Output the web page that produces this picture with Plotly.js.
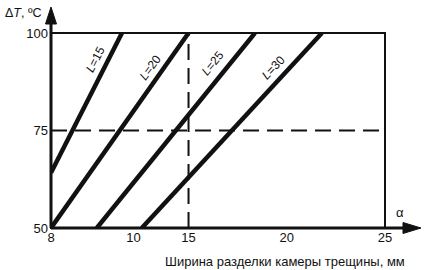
<!DOCTYPE html>
<html>
<head>
<meta charset="utf-8">
<script src="https://cdn.plot.ly/plotly-3.0.1.min.js"></script>
<style>html,body{margin:0;padding:0;background:#fff}#chart{width:425px;height:270px}</style>
</head>
<body>
<div id="chart"></div>
<script>
// Data
const lineNames = ['L=15', 'L=20', 'L=25', 'L=30'];
const lineLabels = ['<i>L</i>=15', '<i>L</i>=20', '<i>L</i>=25', '<i>L</i>=30'];
const xStart = [8, 8, 10.33, 12.62];
const yStart = [64.2, 50, 50, 50];
const xEnd = [11.61, 15, 18.38, 21.79];
const yEnd = [100, 100, 100, 100];
const labelX = [10.24, 13.04, 16.24, 19.3];
const labelY = [93.1, 91.0, 92.3, 91.0];
const labelAngle = [-63, -54, -51, -47];

const xTickVals = [8, 12.2, 15, 20, 25];
const xTickText = ['8', '10', '15', '20', '25'];
const yTickVals = [50, 75, 100];
const yTickText = ['50', '75', '100'];
const refX = 15;   // dashed vertical guide
const refY = 75;   // dashed horizontal guide
const xTitle = 'Ширина разделки камеры трещины, мм';
const yTitle = 'Δ<i>T</i>, ºC';
const xSymbol = 'α';

const FONT = 'Liberation Sans, Arial, Helvetica, sans-serif';

const traces = lineNames.map((n, i) => ({
  type: 'scatter', mode: 'lines', name: n,
  x: [xStart[i], xEnd[i]], y: [yStart[i], yEnd[i]],
  line: {color: '#111', width: 4.5},
  showlegend: false, hoverinfo: 'skip', cliponaxis: false
}));

// dashed guides
traces.push({type: 'scatter', mode: 'lines', x: [8, 25], y: [refY, refY],
  line: {color: '#111', width: 2, dash: '16px,8px'}, showlegend: false, hoverinfo: 'skip'});
traces.push({type: 'scatter', mode: 'lines', x: [refX, refX], y: [50, 100],
  line: {color: '#111', width: 2, dash: '16px,8px'}, showlegend: false, hoverinfo: 'skip'});

const annotations = lineNames.map((n, i) => ({
  x: labelX[i], y: labelY[i], xref: 'x', yref: 'y', text: lineLabels[i],
  showarrow: false, textangle: labelAngle[i],
  font: {family: FONT, size: 12, color: '#111'}
}));
annotations.push({xref: 'paper', yref: 'paper', x: -0.144, y: 1.103, xanchor: 'left', yanchor: 'middle',
  text: yTitle, showarrow: false, font: {family: FONT, size: 12.5, color: '#111'}});
annotations.push({xref: 'paper', yref: 'paper', x: 1.045, y: 0.077, xanchor: 'center', yanchor: 'middle',
  text: xSymbol, showarrow: false, font: {family: FONT, size: 13, color: '#111'}});
annotations.push({xref: 'paper', yref: 'paper', x: 0.70, y: -0.174, xanchor: 'center', yanchor: 'middle',
  text: xTitle, showarrow: false, font: {family: FONT, size: 13, color: '#111'}});

const shapes = [
  // frame top and right
  {type: 'rect', xref: 'paper', yref: 'paper', x0: 0, x1: 1, y0: 0, y1: 1,
   line: {color: '#111', width: 2}, layer: 'above'},
  // x axis with arrow
  {type: 'line', xref: 'paper', yref: 'paper', xsizemode: 'pixel', ysizemode: 'pixel',
   xanchor: 0, yanchor: 0, x0: 0, x1: 356, y0: 0, y1: 0, line: {color: '#111', width: 3}, layer: 'above'},
  {type: 'path', xref: 'paper', yref: 'paper', xsizemode: 'pixel', ysizemode: 'pixel',
   xanchor: 0, yanchor: 0, path: 'M 352 -5.5 L 370 0 L 352 5.5 Z',
   fillcolor: '#111', line: {color: '#111', width: 1}, layer: 'above'},
  // y axis with arrow
  {type: 'line', xref: 'paper', yref: 'paper', xsizemode: 'pixel', ysizemode: 'pixel',
   xanchor: 0, yanchor: 0, x0: 0, x1: 0, y0: 0, y1: 208, line: {color: '#111', width: 3}, layer: 'above'},
  {type: 'path', xref: 'paper', yref: 'paper', xsizemode: 'pixel', ysizemode: 'pixel',
   xanchor: 0, yanchor: 0, path: 'M -5.5 204 L 0 221 L 5.5 204 Z',
   fillcolor: '#111', line: {color: '#111', width: 1}, layer: 'above'}
];

const layout = {
  width: 425, height: 270,
  margin: {l: 51, r: 40, t: 33, b: 42},
  paper_bgcolor: '#fff', plot_bgcolor: '#fff',
  font: {family: FONT, size: 13, color: '#111'},
  showlegend: false,
  xaxis: {range: [8, 25], tickvals: xTickVals, ticktext: xTickText, showgrid: false,
    zeroline: false, showline: false, ticks: '', tickfont: {family: FONT, size: 13, color: '#111'}},
  yaxis: {range: [50, 100], tickvals: yTickVals, ticktext: yTickText, showgrid: false,
    zeroline: false, showline: false, ticks: '', ticklabelstandoff: 2, tickfont: {family: FONT, size: 13, color: '#111'}},
  shapes: shapes,
  annotations: annotations
};

Plotly.newPlot('chart', traces, layout, {staticPlot: true, displayModeBar: false});
</script>
</body>
</html>
